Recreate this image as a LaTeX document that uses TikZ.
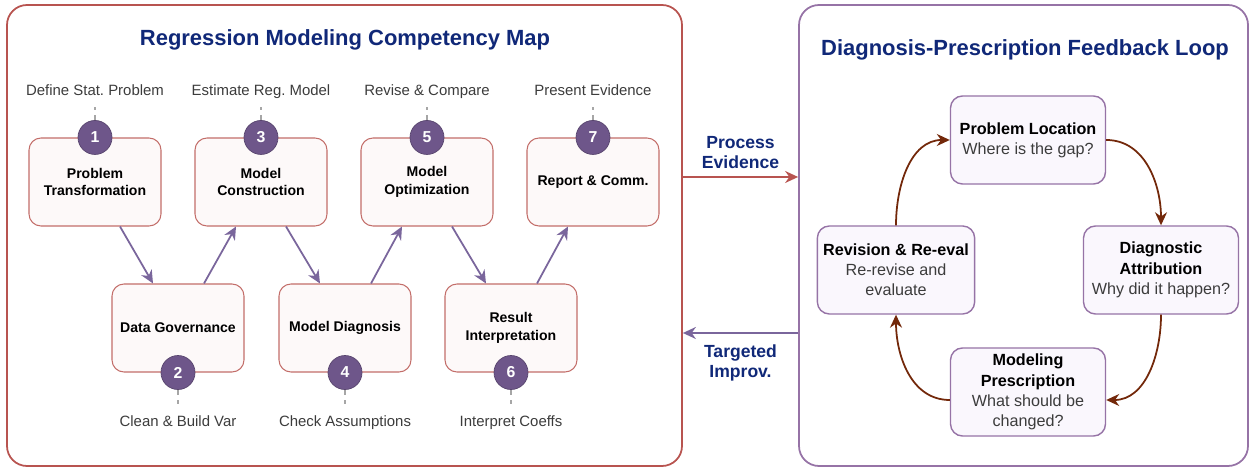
\documentclass[tikz,border=0pt]{standalone}
\usepackage{fontspec}
\setmainfont{Liberation Sans}
\usepackage{xcolor}
\usetikzlibrary{arrows.meta, positioning}
\definecolor{mapred}{RGB}{184,84,80}
\definecolor{stagefill}{RGB}{253,249,249}
\definecolor{looppurple}{RGB}{150,115,166}
\definecolor{loopfill}{RGB}{250,247,253}
\definecolor{badgepurple}{RGB}{110,86,138}
\definecolor{titleblue}{RGB}{16,40,120}
\definecolor{flowpurple}{RGB}{122,102,156}
\definecolor{cyclebrown}{RGB}{115,40,10}
\definecolor{notegray}{RGB}{60,60,60}
\frenchspacing

\begin{document}
\begin{tikzpicture}[
  panel/.style={draw, rounded corners=0.4cm, line width=1pt, fill=white},
  stage/.style={draw=mapred!85, fill=stagefill, rounded corners=0.24cm, minimum width=2.64cm, minimum height=1.76cm, align=center, font=\fontsize{8}{10}\selectfont\bfseries, line width=0.6pt},
  loopbox/.style={draw=looppurple, fill=loopfill, rounded corners=0.24cm, minimum width=3.1cm, minimum height=1.76cm, align=center, font=\fontsize{9.2}{11.5}\selectfont, line width=0.8pt},
  badge/.style={circle, fill=badgepurple, draw=badgepurple!80!black, minimum size=0.68cm, inner sep=0pt, text=white, font=\fontsize{9}{9}\selectfont\bfseries},
  note/.style={font=\fontsize{8.5}{10}\selectfont, color=notegray, text height=1.6ex, text depth=0.4ex},
  tick/.style={dashed, gray!70, line width=0.6pt},
  title/.style={font=\fontsize{12.5}{15}\selectfont\bfseries, color=titleblue},
  link/.style={font=\fontsize{10}{11.5}\selectfont\bfseries, color=titleblue, align=center},
  flow/.style={-{Stealth[length=2.6mm, width=2.4mm]}, line width=1pt, color=flowpurple},
  cycle/.style={-{Stealth[length=2.6mm, width=2.4mm]}, line width=1pt, color=cyclebrown}
]
\useasboundingbox (0,0) rectangle (25,9.36);

% Two panels
\node[panel, draw=mapred, minimum width=13.5cm, minimum height=9.22cm] (map) at (6.89,4.65) {};
\node[panel, draw=looppurple, minimum width=8.98cm, minimum height=9.22cm] (loop) at (20.47,4.65) {};
\node[title] at (6.9,8.56) {Regression Modeling Competency Map};
\node[title] at (20.5,8.36) {Diagnosis-Prescription Feedback Loop};

% Competency stages, upper row
\node[stage] (s1) at (1.9,5.72) {Problem\\Transformation};
\node[stage] (s3) at (5.22,5.72) {Model\\Construction};
\node[stage] (s5) at (8.54,5.72) {Model\\Optimization};
\node[stage] (s7) at (11.86,5.72) {Report \& Comm.};

% Competency stages, lower row
\node[stage] (s2) at (3.56,2.8) {Data Governance};
\node[stage] (s4) at (6.9,2.8) {Model Diagnosis};
\node[stage] (s6) at (10.22,2.8) {Result\\Interpretation};

% Badges and task notes
\node[badge] (b1) at (s1.north) {1};
\node[badge] (b3) at (s3.north) {3};
\node[badge] (b5) at (s5.north) {5};
\node[badge] (b7) at (s7.north) {7};
\node[badge] (b2) at (s2.south) {2};
\node[badge] (b4) at (s4.south) {4};
\node[badge] (b6) at (s6.south) {6};

\node[note, above=0.3cm of b1] (n1) {Define Stat. Problem};
\node[note, above=0.3cm of b3] (n3) {Estimate Reg. Model};
\node[note, above=0.3cm of b5] (n5) {Revise \& Compare};
\node[note, above=0.3cm of b7] (n7) {Present Evidence};
\node[note, below=0.32cm of b2] (n2) {Clean \& Build Var};
\node[note, below=0.32cm of b4] (n4) {Check Assumptions};
\node[note, below=0.32cm of b6] (n6) {Interpret Coeffs};

\draw[tick] (b1.north) -- ++(0,0.26);
\draw[tick] (b3.north) -- ++(0,0.26);
\draw[tick] (b5.north) -- ++(0,0.26);
\draw[tick] (b7.north) -- ++(0,0.26);
\draw[tick] (b2.south) -- ++(0,-0.28);
\draw[tick] (b4.south) -- ++(0,-0.28);
\draw[tick] (b6.south) -- ++(0,-0.28);

% Zig-zag through the stages
\draw[flow] ([xshift=0.5cm]s1.south) -- ([xshift=-0.5cm]s2.north);
\draw[flow] ([xshift=0.52cm]s2.north) -- ([xshift=-0.5cm]s3.south);
\draw[flow] ([xshift=0.5cm]s3.south) -- ([xshift=-0.5cm]s4.north);
\draw[flow] ([xshift=0.52cm]s4.north) -- ([xshift=-0.5cm]s5.south);
\draw[flow] ([xshift=0.5cm]s5.south) -- ([xshift=-0.5cm]s6.north);
\draw[flow] ([xshift=0.52cm]s6.north) -- ([xshift=-0.5cm]s7.south);

% Links between panels
\draw[flow, color=mapred] ([yshift=1.17cm]map.east) -- node[link, above=1pt]{Process\\Evidence} ([yshift=1.17cm]loop.west);
\draw[flow] ([yshift=-1.95cm]loop.west) -- node[link, below=3pt]{Targeted\\Improv.} ([yshift=-1.95cm]map.east);

% Feedback loop
\node[loopbox] (locate) at (20.56,6.56) {\textbf{Problem Location}\\\textcolor{notegray}{Where is the gap?}};
\node[loopbox] (attrib) at (23.22,3.96) {\textbf{Diagnostic}\\\textbf{Attribution}\\\textcolor{notegray}{Why did it happen?}};
\node[loopbox] (prescr) at (20.56,1.52) {\textbf{Modeling}\\\textbf{Prescription}\\\textcolor{notegray}{What should be}\\\textcolor{notegray}{changed?}};
\node[loopbox] (revise) at (17.92,3.96) {\textbf{Revision \& Re-eval}\\\textcolor{notegray}{Re-revise and}\\\textcolor{notegray}{evaluate}};

\draw[cycle] (locate.east) to[out=0, in=90] (attrib.north);
\draw[cycle] (attrib.south) to[out=-90, in=0] ([yshift=-0.16cm]prescr.east);
\draw[cycle] ([yshift=-0.16cm]prescr.west) to[out=180, in=-90] (revise.south);
\draw[cycle] (revise.north) to[out=90, in=180] (locate.west);
\end{tikzpicture}
\end{document}
